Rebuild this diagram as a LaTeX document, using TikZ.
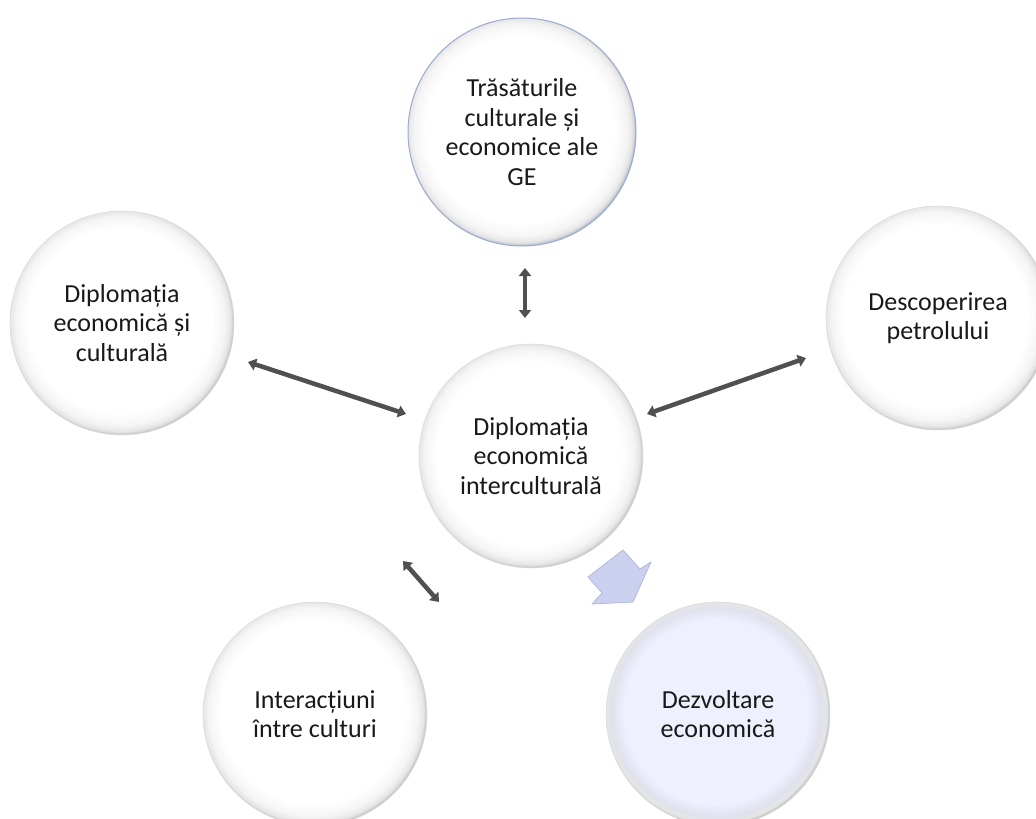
\documentclass[tikz,border=0pt]{standalone}
\usepackage{fontspec}
\setmainfont{Carlito}
\usetikzlibrary{arrows.meta}
\definecolor{lav}{HTML}{EEF1FD}
\definecolor{rimblue}{HTML}{9AAAD0}
\definecolor{arrowgray}{HTML}{505050}
\definecolor{blockfill}{HTML}{CBD0EE}
\definecolor{blockedge}{HTML}{B3BADF}
\pgfdeclareradialshading{sphere}{\pgfpoint{-0.8bp}{0.8bp}}{color(0bp)=(white); color(20.5bp)=(white); color(23.3bp)=(black!4); color(24.6bp)=(black!10); color(25.4bp)=(black!24); color(50bp)=(black!24)}
\pgfdeclareradialshading{spherelav}{\pgfpoint{-0.8bp}{0.8bp}}{color(0bp)=(lav); color(20.5bp)=(lav); color(23.3bp)=(lav!94!black); color(24.6bp)=(black!10); color(25.4bp)=(black!24); color(50bp)=(black!24)}
\pgfdeclareradialshading{sphereblue}{\pgfpoint{-0.8bp}{0.8bp}}{color(0bp)=(white); color(20.5bp)=(white); color(23.3bp)=(black!4); color(24.6bp)=(black!10); color(25.4bp)=(rimblue!80!black!60); color(50bp)=(rimblue)}
\tikzset{
  ball/.style={circle, minimum size=224pt, inner sep=0pt, shading=sphere, draw=black!14, line width=0.5pt,
    align=center, font=\fontsize{26}{29.5}\selectfont, text=black!90},
  ballblue/.style={ball, minimum size=228pt, shading=sphereblue, draw=rimblue, line width=1pt},
  balllav/.style={ball, shading=spherelav},
  dbl/.style={draw=arrowgray, line width=4.5pt, {Triangle[length=8pt,width=12pt]}-{Triangle[length=8pt,width=12pt]}},
  block/.style={fill=blockfill, draw=blockedge, line width=0.8pt, line join=round}
}
\begin{document}
\begin{tikzpicture}[x=1pt,y=-1pt]
\useasboundingbox (0,0) rectangle (1036,819);
\fill[white] (0,0) rectangle (1036,819);
% circles
\node[ballblue] (top) at (522,132) {Trăsăturile\\culturale și\\economice ale\\GE};
\node[ball] (left) at (122,323) {Diplomația\\economică și\\culturală};
\node[ball] (right) at (938,318) {Descoperirea\\petrolului};
\node[ball] (center) at (531,456) {Diplomația\\economică\\interculturală};
\node[ball] (bl) at (315,714) {Interacțiuni\\între culturi};
\node[balllav] (br) at (718,714) {Dezvoltare\\economică};
% connector end points
\coordinate (t1) at (525,268);
\coordinate (t2) at (525,318);
\coordinate (l1) at (248,362);
\coordinate (l2) at (406,414);
\coordinate (r1) at (647,414);
\coordinate (r2) at (806,358);
\coordinate (b1) at (403,561);
\coordinate (b2) at (439,602);
\draw[dbl] (t1) -- (t2);
\draw[dbl] (l1) -- (l2);
\draw[dbl] (r1) -- (r2);
\draw[dbl] (b1) -- (b2);
% block arrow towards Dezvoltare
\coordinate (pA) at (623,550);
\coordinate (pB) at (640,569);
\coordinate (pC) at (651,562);
\coordinate (pD) at (633,602);
\coordinate (pE) at (592,604);
\coordinate (pF) at (602,593);
\coordinate (pG) at (588,577);
\draw[block] (pA) -- (pB) -- (pC) -- (pD) -- (pE) -- (pF) -- (pG) -- cycle;
\end{tikzpicture}
\end{document}
